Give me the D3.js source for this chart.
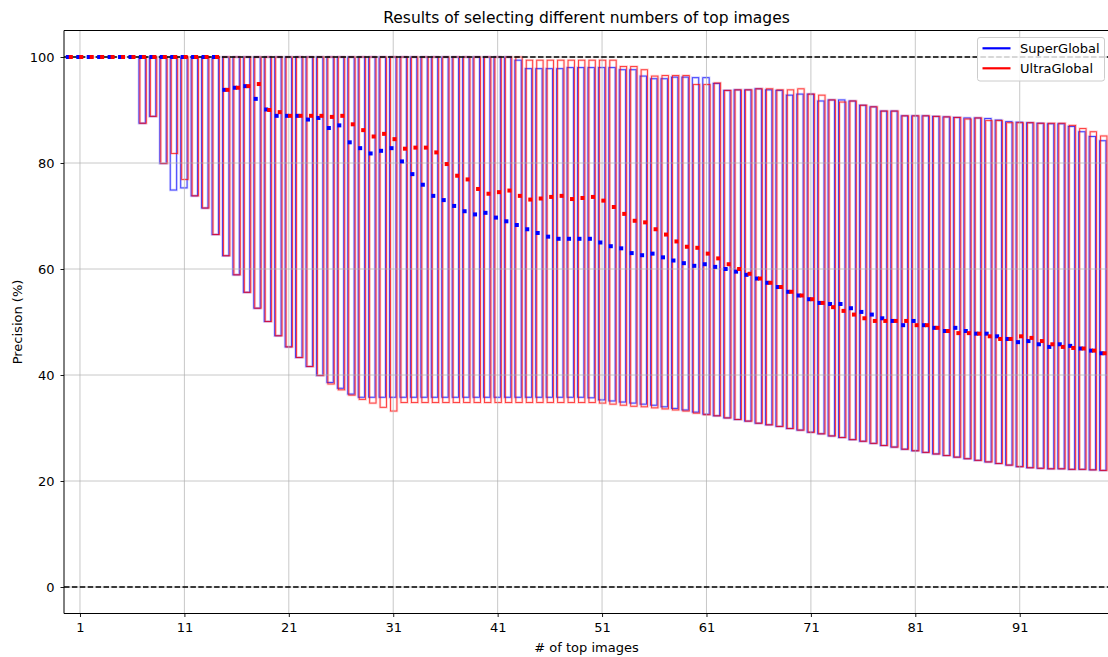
<!DOCTYPE html>
<html>
<head>
<meta charset="utf-8">
<script src="https://cdn.jsdelivr.net/npm/d3@7"></script>
<style>
  html, body { margin: 0; padding: 0; background: #fff; }
  svg { display: block; font-family: "DejaVu Sans", sans-serif; }
</style>
</head>
<body>
<svg id="chart" width="1108" height="657"></svg>
<script>
// ---------------- data ----------------
const positions = d3.range(100);
const tickValues = [1, 11, 21, 31, 41, 51, 61, 71, 81, 91];
const tickLabels = ["1", "11", "21", "31", "41", "51", "61", "71", "81", "91"];
const yTicks = [0, 20, 40, 60, 80, 100];
const seriesNames = ["SuperGlobal", "UltraGlobal"];

const blueMax = [
  100,100,100,100,100,100,100,100,100,100,
  100,100,100,100,100,100,100,100,100,100,
  100,100,100,100,100,100,100,100,100,100,
  100,100,100,100,100,100,100,100,100,100,
  100,100,100,99.4,97.8,97.8,97.8,97.8,98.0,98.0,
  98.0,98.0,98.0,97.6,97.6,96.4,95.9,95.9,96.2,96.2,
  96.1,96.1,95.0,93.7,93.8,93.8,94.0,93.8,93.7,92.8,
  93.0,93.0,91.7,91.9,91.9,91.7,90.9,90.6,89.8,89.8,
  88.9,88.9,88.9,88.8,88.7,88.6,88.5,88.5,88.4,88.1,
  87.8,87.7,87.6,87.5,87.4,87.4,86.9,85.9,85.0,84.2
];
const redMax = [
  100,100,100,100,100,100,100,100,100,100,
  100,100,100,100,100,100,100,100,100,100,
  100,100,100,100,100,100,100,100,100,100,
  100,100,100,100,100,100,100,100,100,100,
  100,100,100,100,99.4,99.4,99.4,99.4,99.4,99.4,
  99.4,99.4,99.4,98.2,98.2,97.6,96.4,96.5,96.5,96.5,
  94.8,94.8,95.1,93.7,93.8,93.8,94.0,94.0,93.8,93.8,
  94.0,93.0,92.8,91.9,91.5,91.7,90.9,90.6,89.8,89.8,
  88.9,88.9,88.9,88.8,88.7,88.6,88.3,88.5,88.0,88.0,
  87.6,87.6,87.6,87.5,87.5,87.5,87.1,86.5,85.9,85.1
];
const blueMin = [
  100,100,100,100,100,100,100,87.5,88.8,79.9,
  74.9,75.3,73.8,71.5,66.5,62.5,58.9,55.6,52.6,50.1,
  47.4,45.3,43.3,41.6,39.9,38.6,37.5,36.4,35.8,35.8,
  35.8,35.8,35.8,35.8,35.8,35.8,35.8,35.8,35.8,35.8,
  35.8,35.8,35.8,35.8,35.8,35.8,35.8,35.8,35.8,35.8,
  35.7,35.3,35.1,34.9,34.7,34.5,34.3,34.0,33.7,33.4,
  33.0,32.6,32.3,31.9,31.6,31.3,30.9,30.6,30.3,29.9,
  29.6,29.2,28.9,28.5,28.2,27.8,27.5,27.1,26.7,26.4,
  26.0,25.7,25.4,25.1,24.8,24.5,24.2,23.9,23.6,23.3,
  23.0,22.7,22.5,22.4,22.3,22.3,22.2,22.2,22.1,22.0
];
const redMin = [
  100,100,100,100,100,100,100,87.5,88.8,79.9,
  81.8,76.9,73.8,71.5,66.5,62.5,58.9,55.6,52.6,50.1,
  47.4,45.3,43.3,41.6,39.9,38.3,37.2,36.2,35.4,34.7,
  33.9,33.2,34.8,34.8,34.8,34.8,34.8,34.8,34.8,34.8,
  34.8,34.8,34.8,34.8,34.8,34.8,34.8,34.8,34.8,34.8,
  34.8,34.7,34.5,34.3,34.1,34.0,33.8,33.6,33.4,33.2,
  32.8,32.5,32.3,31.9,31.6,31.3,30.9,30.6,30.3,29.9,
  29.6,29.2,28.9,28.5,28.2,27.8,27.5,27.1,26.7,26.4,
  26.0,25.7,25.4,25.1,24.8,24.5,24.2,23.9,23.6,23.3,
  23.0,22.7,22.5,22.4,22.3,22.3,22.2,22.2,22.1,22.0
];
const blueMed = [
  100,100,100,100,100,100,100,100,100,100,
  100,100,100,100,100,93.8,94.2,94.5,92.1,90.1,
  88.9,88.9,88.9,88.2,88.5,86.6,87.1,83.9,82.8,81.8,
  82.3,82.8,80.3,77.9,75.9,73.8,73.0,71.9,70.9,70.3,
  70.6,69.7,69.0,68.3,67.5,66.8,66.1,65.7,65.7,65.7,
  65.7,65.0,64.3,63.9,63.0,62.6,62.9,62.2,61.6,61.1,
  60.6,60.9,60.4,60.0,59.5,58.9,58.2,57.4,56.6,55.7,
  55.0,54.3,53.6,53.4,53.4,52.6,51.9,51.4,50.7,50.2,
  49.4,50.2,49.4,48.9,48.3,48.9,48.3,47.8,47.8,47.3,
  46.8,46.2,46.4,45.8,45.3,45.8,45.5,45.0,44.6,44.1
];
const redMed = [
  100,100,100,100,100,100,100,100,100,100,
  100,100,100,100,100,93.8,94.2,94.5,94.9,90.0,
  89.6,88.9,88.9,88.9,88.9,88.7,88.9,87.3,86.2,85.0,
  85.5,84.5,82.7,82.9,82.9,82.0,79.8,77.6,76.9,75.1,
  74.2,74.5,74.8,73.8,73.1,73.3,73.6,73.8,73.2,73.4,
  73.6,72.9,71.7,70.4,69.1,68.8,67.5,66.5,65.2,64.2,
  64.0,62.9,62.0,60.9,60.0,59.1,58.2,57.4,56.6,55.7,
  55.0,54.3,53.6,52.8,52.1,51.4,50.7,50.2,50.2,50.2,
  50.2,49.4,49.4,48.9,48.3,47.9,47.9,47.8,47.3,46.8,
  46.8,47.3,47.0,46.4,45.8,45.3,45.1,45.0,44.6,44.1
];

// ---------------- layout ----------------
const svg = d3.select("#chart");
const L = 64, R = 1109, T = 30.5, B = 613.5;
const x = d3.scaleLinear().domain([-0.53, 99.55]).range([L, R]);
const y = d3.scaleLinear().domain([-5, 105]).range([B, T]);

const series = [
  { name: seriesNames[0], color: "#0000ff", min: blueMin, max: blueMax, med: blueMed, boxOff: -0.5, mOff: -1.7 },
  { name: seriesNames[1], color: "#ff0000", min: redMin, max: redMax, med: redMed, boxOff: 0.5, mOff: 1.3 }
];

svg.append("defs").append("clipPath").attr("id", "plotclip")
  .append("rect").attr("x", L).attr("y", T).attr("width", R - L).attr("height", B - T);

const plot = svg.append("g").attr("clip-path", "url(#plotclip)");

// boxes
const halfW = 3.2;
series.forEach(s => {
  const g = plot.append("g");
  g.selectAll("rect.soft").data(positions).enter().append("rect")
    .attr("x", i => x(i) + s.boxOff - halfW)
    .attr("width", 2 * halfW)
    .attr("y", i => y(s.max[i]))
    .attr("height", i => Math.max(0, y(s.min[i]) - y(s.max[i])))
    .attr("fill", "none")
    .attr("stroke", s.color)
    .attr("stroke-opacity", 0.18)
    .attr("stroke-width", 2.6);
  g.selectAll("rect.core").data(positions).enter().append("rect")
    .attr("x", i => x(i) + s.boxOff - halfW)
    .attr("width", 2 * halfW)
    .attr("y", i => y(s.max[i]))
    .attr("height", i => Math.max(0, y(s.min[i]) - y(s.max[i])))
    .attr("fill", "none")
    .attr("stroke", s.color)
    .attr("stroke-opacity", 0.75)
    .attr("stroke-width", 0.9);
});

// grid (above patches)
const grid = plot.append("g");
grid.selectAll("line.gx").data(tickValues).enter().append("line")
  .attr("x1", d => x(d)).attr("x2", d => x(d)).attr("y1", T).attr("y2", B)
  .attr("stroke", "#b0b0b0").attr("stroke-opacity", 0.7).attr("stroke-width", 1);
grid.selectAll("line.gy").data(yTicks).enter().append("line")
  .attr("x1", L).attr("x2", R).attr("y1", d => y(d)).attr("y2", d => y(d))
  .attr("stroke", "#b0b0b0").attr("stroke-opacity", 0.7).attr("stroke-width", 1);

// dashed reference lines
plot.selectAll("line.ref").data([0, 100]).enter().append("line")
  .attr("x1", L).attr("x2", R).attr("y1", d => y(d)).attr("y2", d => y(d))
  .attr("stroke", "#000").attr("stroke-width", 1.3).attr("stroke-dasharray", "5.5,2.4");

// median markers
series.forEach(s => {
  plot.append("g").selectAll("rect").data(positions).enter().append("rect")
    .attr("x", i => x(i) + s.mOff - 2)
    .attr("y", i => y(s.med[i]) - 2)
    .attr("width", 4).attr("height", 4)
    .attr("fill", s.color);
});

// axes
const fs = 13;
const xAxis = d3.axisBottom(x).tickValues(tickValues).tickFormat((d, i) => tickLabels[i])
  .tickSizeInner(3.5).tickSizeOuter(0).tickPadding(5.5);
const gx = svg.append("g").attr("transform", `translate(0,${B})`).call(xAxis);
const yAxis = d3.axisLeft(y).tickValues(yTicks).tickFormat(d3.format("d"))
  .tickSizeInner(3.5).tickSizeOuter(0).tickPadding(6);
const gy = svg.append("g").attr("transform", `translate(${L},0)`).call(yAxis);
[gx, gy].forEach(g => {
  g.select(".domain").remove();
  g.selectAll("line").attr("stroke", "#000").attr("stroke-width", 0.9);
  g.selectAll("text").attr("font-size", fs).attr("fill", "#000").attr("font-family", "DejaVu Sans, sans-serif");
});

// spines (right spine lies outside the cropped picture)
svg.append("line").attr("x1", L).attr("x2", L).attr("y1", T).attr("y2", B).attr("stroke", "#000").attr("stroke-width", 1);
svg.append("line").attr("x1", L).attr("x2", R).attr("y1", B).attr("y2", B).attr("stroke", "#000").attr("stroke-width", 1);
svg.append("line").attr("x1", L).attr("x2", R).attr("y1", T).attr("y2", T).attr("stroke", "#000").attr("stroke-width", 1);

// title and labels
svg.append("text").attr("x", (L + R) / 2).attr("y", 22.5).attr("text-anchor", "middle")
  .attr("font-size", 15.5).attr("fill", "#000").text("Results of selecting different numbers of top images");
svg.append("text").attr("x", (L + R) / 2).attr("y", 651.5).attr("text-anchor", "middle")
  .attr("font-size", fs).attr("fill", "#000").text("# of top images");
svg.append("text").attr("transform", `translate(21.5,${(T + B) / 2}) rotate(-90)`).attr("text-anchor", "middle")
  .attr("font-size", fs).attr("fill", "#000").text("Precision (%)");

// legend
const lg = svg.append("g").attr("transform", "translate(977.5,37.5)");
lg.append("rect").attr("width", 127).attr("height", 43.5).attr("rx", 2.5)
  .attr("fill", "#fff").attr("fill-opacity", 0.8).attr("stroke", "#cccccc").attr("stroke-width", 1);
series.forEach((s, k) => {
  const yy = 10.8 + k * 20;
  lg.append("line").attr("x1", 5).attr("x2", 33).attr("y1", yy).attr("y2", yy)
    .attr("stroke", s.color).attr("stroke-width", 2.2);
  lg.append("text").attr("x", 42.5).attr("y", yy + 4.6).attr("font-size", fs).attr("fill", "#000").text(s.name);
});
</script>
</body>
</html>
